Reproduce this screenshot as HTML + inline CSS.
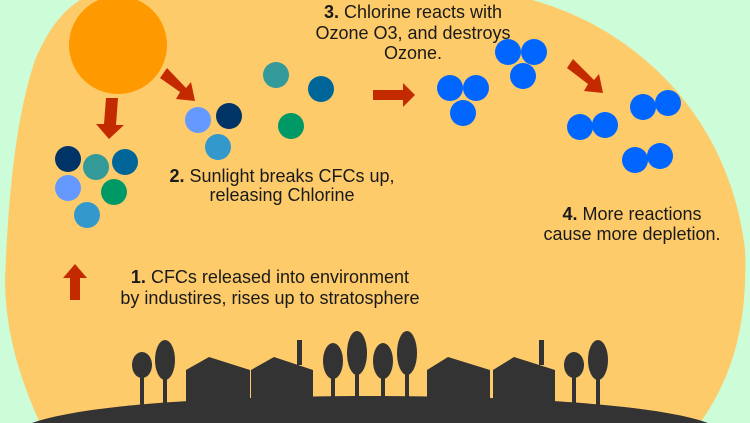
<!DOCTYPE html>
<html><head><meta charset="utf-8"><style>
html,body{margin:0;padding:0;background:#ccfcd8;width:750px;height:423px;overflow:hidden;}
svg{display:block;overflow:hidden}
text{font-family:"Liberation Sans Narrow","Liberation Sans",sans-serif;font-size:18px;fill:#1a1a1a;}
</style></head><body>
<svg width="750" height="423" viewBox="0 0 750 423" xmlns="http://www.w3.org/2000/svg">
<rect width="750" height="423" fill="#ccfcd8"/>
<path d="M80,0 L532,0 C640,30 730,120 745,250 C748,330 730,380 700,423 L40,423 C20,380 5,330 5,280 C8,200 15,120 35,60 C50,25 65,10 80,0 Z" fill="#fdcb69"/>
<circle cx="118" cy="45" r="49" fill="#ff9900"/>
<g fill="#c42a00">
<path d="M106,98 L118,98 L116,125 L124,125 L109,139 L96,124 L104,124 Z"/>
<path d="M167,68 L160,78 L180,92 L176,99 L195,101 L191,82 L186,88 Z"/>
<path d="M373,90 L403,90 L403,83 L415,95 L403,107 L403,100 L373,100 Z"/>
<path d="M573,59 L567,68 L588,84 L584,91 L603,93 L599,74 L594,80 Z"/>
<path d="M70,300 L80,300 L80,278 L87,278 L75,264 L63,278 L70,278 Z"/>
</g>
<g>
<circle cx="68" cy="159" r="13" fill="#003366"/>
<circle cx="96" cy="167" r="13" fill="#339999"/>
<circle cx="125" cy="162" r="13" fill="#006699"/>
<circle cx="68" cy="188" r="13" fill="#6699ff"/>
<circle cx="114" cy="192" r="13" fill="#009966"/>
<circle cx="87" cy="215" r="13" fill="#3399cc"/>
<circle cx="198" cy="120" r="13" fill="#6699ff"/>
<circle cx="229" cy="116" r="13" fill="#003366"/>
<circle cx="218" cy="147" r="13" fill="#3399cc"/>
<circle cx="276" cy="75" r="13" fill="#339999"/>
<circle cx="321" cy="89" r="13" fill="#006699"/>
<circle cx="291" cy="126" r="13" fill="#009966"/>
</g>
<g fill="#0066ff">
<circle cx="450" cy="88" r="13"/><circle cx="476" cy="88" r="13"/><circle cx="463" cy="113" r="13"/>
<circle cx="508" cy="52" r="13"/><circle cx="534" cy="52" r="13"/><circle cx="523" cy="76" r="13"/>
<circle cx="580" cy="127" r="13"/><circle cx="605" cy="125" r="13"/>
<circle cx="643" cy="107" r="13"/><circle cx="668" cy="103" r="13"/>
<circle cx="635" cy="160" r="13"/><circle cx="660" cy="156" r="13"/>
</g>
<g text-anchor="middle">
<text x="413" y="18"><tspan font-weight="bold">3.</tspan> Chlorine reacts with</text>
<text x="413" y="39">Ozone O3, and destroys</text>
<text x="413" y="59">Ozone.</text>
<text x="282" y="182"><tspan font-weight="bold">2.</tspan> Sunlight breaks CFCs up,</text>
<text x="282" y="201">releasing Chlorine</text>
<text x="632" y="220"><tspan font-weight="bold">4.</tspan> More reactions</text>
<text x="632" y="240">cause more depletion.</text>
<text x="270" y="283"><tspan font-weight="bold">1.</tspan> CFCs released into environment</text>
<text x="270" y="304">by industires, rises up to stratosphere</text>
</g>
<g fill="#333333">
<path d="M32,423 C90,402 250,396 370,396 C490,396 650,402 708,423 Z"/>
<rect x="140" y="360" width="4" height="45"/><ellipse cx="142" cy="365" rx="10" ry="13"/>
<rect x="163" y="360" width="4" height="45"/><ellipse cx="165" cy="360" rx="10" ry="20"/>
<path d="M186,370 L209,357 L250,370 L250,405 L186,405 Z"/>
<path d="M251,370 L274,357 L313,370 L313,405 L251,405 Z"/>
<rect x="297" y="340" width="5" height="25"/>
<rect x="331" y="360" width="4" height="45"/><ellipse cx="333" cy="361" rx="10" ry="18"/>
<rect x="355" y="355" width="4" height="50"/><ellipse cx="357" cy="353" rx="10" ry="22"/>
<rect x="381" y="360" width="4" height="45"/><ellipse cx="383" cy="361" rx="10" ry="18"/>
<rect x="405" y="355" width="4" height="50"/><ellipse cx="407" cy="353" rx="10" ry="22"/>
<path d="M427,370 L448,357 L490,370 L490,405 L427,405 Z"/>
<path d="M493,370 L514,357 L555,370 L555,405 L493,405 Z"/>
<rect x="539" y="340" width="5" height="25"/>
<rect x="572" y="360" width="4" height="45"/><ellipse cx="574" cy="365" rx="10" ry="13"/>
<rect x="596" y="360" width="4" height="45"/><ellipse cx="598" cy="360" rx="10" ry="20"/>
</g>
</svg>
</body></html>
